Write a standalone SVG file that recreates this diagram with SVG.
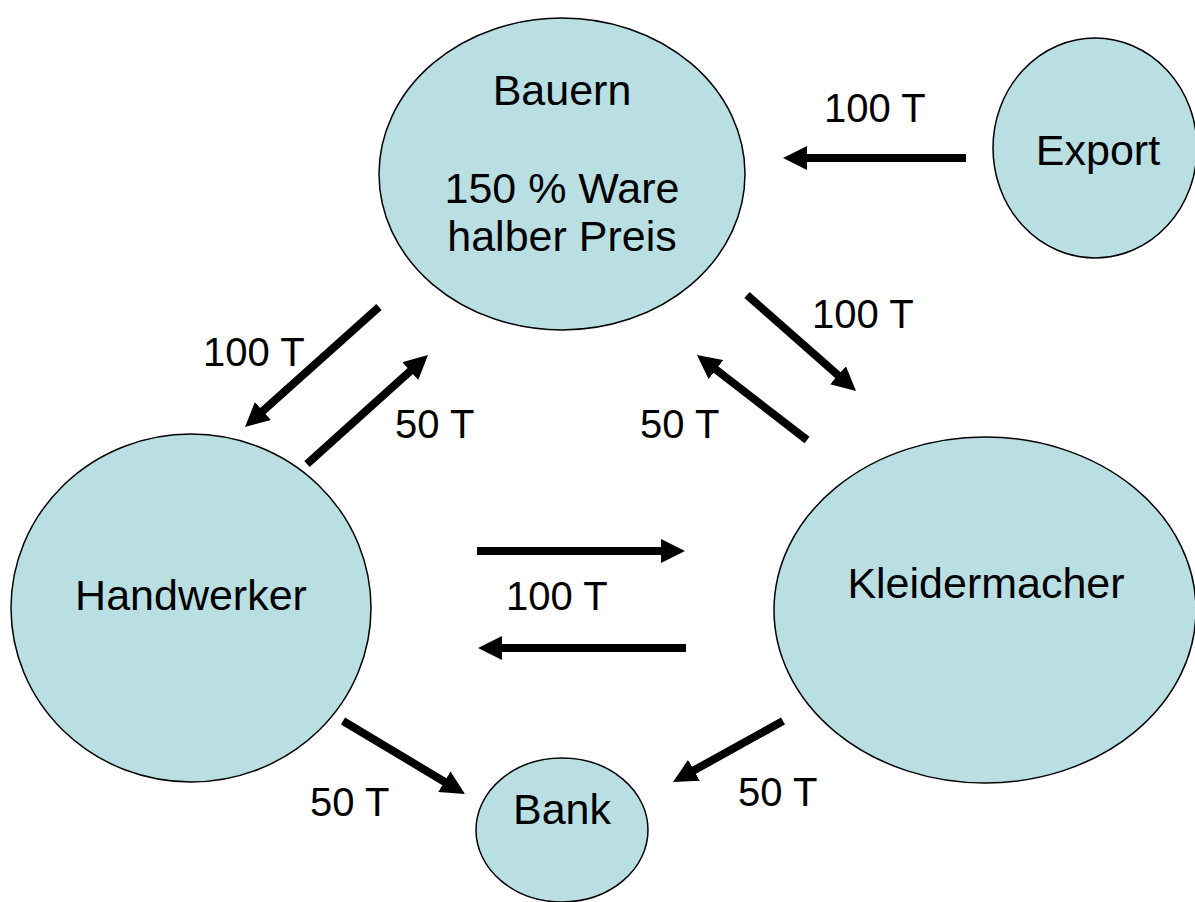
<svg xmlns="http://www.w3.org/2000/svg" width="1195" height="902" viewBox="0 0 1195 902">
<style>
.node{fill:#b9dfe3;stroke:#000;stroke-width:1.5}
text{font-family:"Liberation Sans",Arial,sans-serif;font-size:40px;fill:#000}
.c{text-anchor:middle;font-size:43px}
.arr{stroke:#000;stroke-width:8;fill:none;marker-end:url(#ah)}
</style>
<defs>
<marker id="ah" markerUnits="userSpaceOnUse" markerWidth="24" markerHeight="24" refX="2" refY="12" orient="auto" viewBox="0 0 24 24">
<path d="M0,0 L24,12 L0,24 z" fill="#000"/>
</marker>
</defs>
<rect width="1195" height="902" fill="#fff"/>
<g id="bauern">
<ellipse class="node" cx="562" cy="174" rx="183" ry="156"/>
<text class="c" x="562" y="105">Bauern</text>
<text class="c" x="562" y="203">150 % Ware</text>
<text class="c" x="562" y="251">halber Preis</text>
</g>
<g id="export">
<ellipse class="node" cx="1095" cy="148" rx="102" ry="110"/>
<text class="c" x="1098" y="165">Export</text>
</g>
<g id="handwerker">
<ellipse class="node" cx="191" cy="608" rx="180" ry="174"/>
<text class="c" x="191" y="610">Handwerker</text>
</g>
<g id="kleidermacher">
<ellipse class="node" cx="985" cy="610" rx="211" ry="173"/>
<text class="c" x="986" y="598">Kleidermacher</text>
</g>
<g id="bank">
<ellipse class="node" cx="562" cy="830" rx="86" ry="72"/>
<text class="c" x="562" y="824">Bank</text>
</g>
<g id="connectors">
<line class="arr" x1="966" y1="158" x2="805" y2="158"/>
<line class="arr" x1="379" y1="307" x2="261.4" y2="412.3"/>
<line class="arr" x1="307" y1="464" x2="411.7" y2="369.7"/>
<line class="arr" x1="747" y1="295" x2="839.5" y2="376.5"/>
<line class="arr" x1="807" y1="440" x2="714.4" y2="368.4"/>
<line class="arr" x1="477" y1="551" x2="663" y2="551"/>
<line class="arr" x1="686" y1="648" x2="500" y2="648"/>
<line class="arr" x1="343" y1="721" x2="446.1" y2="782.7"/>
<line class="arr" x1="783" y1="721" x2="692.2" y2="771.3"/>
<text x="824" y="122">100 T</text>
<text x="812" y="328">100 T</text>
<text x="203" y="366">100 T</text>
<text x="395" y="438">50 T</text>
<text x="640" y="438">50 T</text>
<text x="506" y="610">100 T</text>
<text x="310" y="816">50 T</text>
<text x="738" y="806">50 T</text>
</g>
</svg>
